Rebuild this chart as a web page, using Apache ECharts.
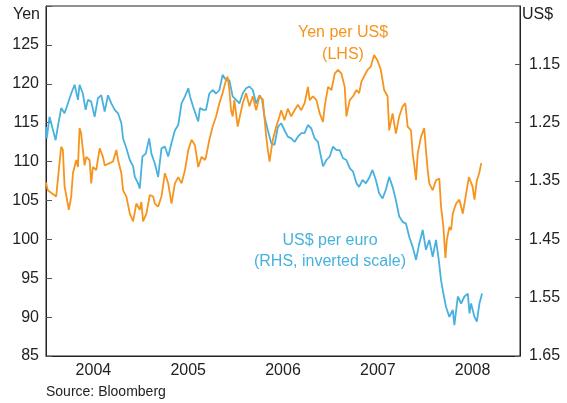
<!DOCTYPE html>
<html>
<head>
<meta charset="utf-8">
<script src="https://cdn.jsdelivr.net/npm/echarts@6.0.0/dist/echarts.min.js"></script>
<style>
html, body { margin: 0; padding: 0; background: #fff; }
#chart { width: 567px; height: 403px; }
</style>
</head>
<body>
<div id="chart"></div>
<script>
const YEARS = ["2004", "2005", "2006", "2007", "2008"]
const RHS_TICKS = [1.15, 1.25, 1.35, 1.45, 1.55, 1.65]

// yen per US$ (LHS): decimal year, yen
const YEN_T = [2004.000, 2004.019, 2004.107, 2004.160, 2004.178, 2004.196, 2004.241, 2004.266, 2004.284, 2004.319,
    2004.337, 2004.354, 2004.371, 2004.389, 2004.407, 2004.424, 2004.460, 2004.477, 2004.495, 2004.530,
    2004.566, 2004.601, 2004.619, 2004.672, 2004.707, 2004.742, 2004.760, 2004.795, 2004.813, 2004.848,
    2004.884, 2004.919, 2004.953, 2004.989, 2005.006, 2005.024, 2005.059, 2005.095, 2005.130, 2005.148,
    2005.183, 2005.218, 2005.254, 2005.289, 2005.324, 2005.360, 2005.395, 2005.430, 2005.466, 2005.501,
    2005.536, 2005.571, 2005.588, 2005.606, 2005.641, 2005.677, 2005.688, 2005.723, 2005.758, 2005.794,
    2005.829, 2005.863, 2005.899, 2005.916, 2005.934, 2005.952, 2005.969, 2005.987, 2006.022, 2006.040,
    2006.075, 2006.111, 2006.146, 2006.181, 2006.217, 2006.252, 2006.287, 2006.323, 2006.340, 2006.358,
    2006.376, 2006.393, 2006.429, 2006.463, 2006.481, 2006.516, 2006.551, 2006.587, 2006.622, 2006.657,
    2006.693, 2006.728, 2006.763, 2006.781, 2006.816, 2006.852, 2006.887, 2006.922, 2006.940, 2006.975,
    2007.011, 2007.046, 2007.080, 2007.116, 2007.151, 2007.169, 2007.204, 2007.239, 2007.275, 2007.303,
    2007.328, 2007.392, 2007.426, 2007.461, 2007.497, 2007.532, 2007.567, 2007.603, 2007.620, 2007.656,
    2007.691, 2007.726, 2007.762, 2007.790, 2007.815, 2007.850, 2007.868, 2007.885, 2007.903, 2007.921,
    2007.956, 2007.990, 2008.008, 2008.026, 2008.043, 2008.079, 2008.114, 2008.149, 2008.167, 2008.192,
    2008.213, 2008.228, 2008.255, 2008.273, 2008.291, 2008.326, 2008.361, 2008.397, 2008.432, 2008.461,
    2008.474, 2008.499, 2008.520, 2008.545, 2008.570, 2008.591]
const YEN = [107.3, 106.3, 105.5, 111.9, 111.5, 106.8, 103.8, 105.5, 108.5, 110.2,
    109.3, 114.3, 113.6, 111.5, 109.5, 110.6, 110.2, 107.2, 109.3, 108.9,
    111.7, 110.6, 109.5, 109.8, 110.0, 111.5, 110.2, 108.5, 106.3, 105.5,
    103.3, 102.3, 104.6, 103.8, 104.8, 102.3, 103.3, 105.7, 105.5, 104.6,
    104.2, 105.5, 108.5, 107.2, 104.6, 107.2, 108.0, 107.2, 108.9, 111.5,
    112.8, 112.1, 112.3, 109.3, 110.6, 110.2, 110.6, 112.8, 114.5, 115.8,
    117.5, 118.8, 120.5, 120.9, 119.2, 116.6, 115.8, 117.9, 114.5, 114.3,
    117.5, 118.8, 117.1, 118.4, 116.6, 118.4, 118.0, 113.2, 111.5, 110.0,
    111.5, 112.8, 114.5, 115.8, 116.6, 115.3, 116.8, 115.8, 116.6, 117.3,
    116.6, 117.5, 119.6, 117.9, 118.4, 117.9, 116.2, 115.1, 117.1, 119.6,
    119.2, 121.3, 121.8, 121.3, 119.6, 115.8, 117.9, 118.4, 119.2, 118.8,
    120.3, 121.8, 122.2, 123.7, 123.0, 121.8, 119.2, 118.4, 114.0, 116.2,
    113.6, 115.8, 117.1, 117.5, 114.5, 114.0, 111.0, 109.5, 107.6, 111.0,
    113.2, 114.3, 111.5, 108.9, 107.2, 106.3, 107.6, 107.8, 104.2, 101.6,
    97.6, 99.9, 101.6, 101.2, 103.3, 104.6, 105.1, 103.3, 105.9, 108.0,
    107.6, 106.8, 105.1, 107.6, 108.5, 109.8]

// US$ per euro (RHS, inverted): decimal year, US$
const EUR_T = [2004.000, 2004.008, 2004.037, 2004.065, 2004.101, 2004.125, 2004.160, 2004.196, 2004.231, 2004.266,
    2004.302, 2004.337, 2004.354, 2004.389, 2004.418, 2004.442, 2004.477, 2004.513, 2004.548, 2004.583,
    2004.619, 2004.654, 2004.689, 2004.725, 2004.760, 2004.795, 2004.813, 2004.848, 2004.884, 2004.919,
    2004.937, 2004.971, 2004.989, 2005.017, 2005.053, 2005.088, 2005.112, 2005.148, 2005.183, 2005.218,
    2005.254, 2005.289, 2005.324, 2005.360, 2005.395, 2005.430, 2005.466, 2005.501, 2005.519, 2005.553,
    2005.588, 2005.606, 2005.624, 2005.659, 2005.688, 2005.723, 2005.758, 2005.794, 2005.829, 2005.863,
    2005.899, 2005.934, 2005.969, 2006.005, 2006.040, 2006.075, 2006.111, 2006.146, 2006.181, 2006.217,
    2006.252, 2006.280, 2006.305, 2006.340, 2006.376, 2006.411, 2006.446, 2006.481, 2006.516, 2006.551,
    2006.587, 2006.622, 2006.657, 2006.693, 2006.728, 2006.763, 2006.799, 2006.834, 2006.869, 2006.894,
    2006.922, 2006.958, 2006.993, 2007.028, 2007.063, 2007.098, 2007.133, 2007.169, 2007.204, 2007.239,
    2007.275, 2007.303, 2007.339, 2007.374, 2007.408, 2007.444, 2007.479, 2007.514, 2007.550, 2007.585,
    2007.620, 2007.656, 2007.691, 2007.726, 2007.762, 2007.797, 2007.832, 2007.868, 2007.903, 2007.938,
    2007.974, 2008.008, 2008.043, 2008.079, 2008.114, 2008.143, 2008.167, 2008.192, 2008.220, 2008.255,
    2008.291, 2008.308, 2008.344, 2008.379, 2008.414, 2008.450, 2008.467, 2008.484, 2008.520, 2008.545,
    2008.572, 2008.600]
const EUR = [1.257, 1.277, 1.240, 1.257, 1.280, 1.257, 1.225, 1.234, 1.217, 1.200,
    1.185, 1.211, 1.185, 1.200, 1.228, 1.211, 1.214, 1.240, 1.208, 1.203,
    1.231, 1.203, 1.217, 1.228, 1.234, 1.251, 1.277, 1.294, 1.314, 1.325,
    1.343, 1.354, 1.363, 1.308, 1.303, 1.277, 1.303, 1.320, 1.343, 1.294,
    1.291, 1.308, 1.285, 1.263, 1.254, 1.217, 1.205, 1.191, 1.205, 1.223,
    1.240, 1.248, 1.225, 1.228, 1.228, 1.200, 1.194, 1.200, 1.194, 1.168,
    1.177, 1.177, 1.205, 1.211, 1.217, 1.200, 1.191, 1.188, 1.194, 1.217,
    1.203, 1.211, 1.240, 1.263, 1.285, 1.288, 1.257, 1.251, 1.263, 1.274,
    1.277, 1.283, 1.274, 1.268, 1.268, 1.254, 1.260, 1.277, 1.283, 1.303,
    1.325, 1.314, 1.308, 1.291, 1.297, 1.297, 1.311, 1.314, 1.328, 1.334,
    1.354, 1.360, 1.348, 1.354, 1.345, 1.331, 1.348, 1.371, 1.380, 1.365,
    1.343, 1.360, 1.383, 1.411, 1.420, 1.423, 1.446, 1.463, 1.485, 1.457,
    1.434, 1.468, 1.451, 1.480, 1.451, 1.485, 1.520, 1.543, 1.566, 1.583,
    1.571, 1.597, 1.548, 1.560, 1.548, 1.543, 1.577, 1.560, 1.583, 1.591,
    1.560, 1.543]

const FONT = "Liberation Sans"
const ORANGE = "#f7941e"
const BLUE = "#48b1de"
const AXIS = "#222"

const chart = echarts.init(document.getElementById("chart"))
const txt = (x, y, text, color, align, size) => ({
    type: "text", x, y,
    style: { text, fill: color, font: `${size || 16}px "${FONT}"`, align: align || "center", verticalAlign: "middle" }
})

chart.setOption({
    animation: false,
    textStyle: { fontFamily: FONT },
    grid: { left: 46, right: 47, top: 6, bottom: 47, show: true, borderColor: AXIS, borderWidth: 1 },
    xAxis: [{
        type: "category", data: YEARS, boundaryGap: true, position: "bottom",
        axisLine: { lineStyle: { color: AXIS, width: 1 } },
        axisTick: { inside: true, length: 7, lineStyle: { color: "#555" } },
        axisLabel: { color: "#222", fontSize: 16, margin: 7, fontFamily: FONT },
        splitLine: { show: false }
    }, {
        type: "value", min: 2004, max: 2009, show: false
    }],
    yAxis: [{
        type: "value", min: 85, max: 130, interval: 5, position: "left",
        axisLine: { show: true, lineStyle: { color: AXIS, width: 1 } },
        axisTick: { show: true, inside: true, length: 6, lineStyle: { color: "#555" } },
        axisLabel: { color: "#222", fontSize: 16, margin: 7, fontFamily: FONT, formatter: v => v >= 130 ? "" : v },
        splitLine: { show: false }
    }, {
        type: "value", min: 1.05, max: 1.65, inverse: true, position: "right",
        axisLine: { show: true, lineStyle: { color: AXIS, width: 1 } },
        axisTick: { show: true, inside: true, length: 5, lineStyle: { color: "#555" }, customValues: RHS_TICKS },
        axisLabel: { color: "#222", fontSize: 16, margin: 9, fontFamily: FONT, customValues: RHS_TICKS, formatter: v => v.toFixed(2) },
        splitLine: { show: false }
    }],
    series: [{
        name: "US$ per euro", type: "line", xAxisIndex: 1, yAxisIndex: 1, symbol: "none",
        lineStyle: { color: BLUE, width: 1.8 }, data: EUR_T.map((t, i) => [t, EUR[i]])
    }, {
        name: "Yen per US$", type: "line", xAxisIndex: 1, yAxisIndex: 0, symbol: "none",
        lineStyle: { color: ORANGE, width: 1.8 }, data: YEN_T.map((t, i) => [t, YEN[i]])
    }],
    graphic: [
        txt(40, 15, "Yen", "#222", "right"),
        txt(522, 15, "US$", "#222", "left"),
        txt(343, 33, "Yen per US$", ORANGE),
        txt(343, 55, "(LHS)", ORANGE),
        txt(330, 241, "US$ per euro", BLUE),
        txt(330, 262, "(RHS, inverted scale)", BLUE),
        txt(46, 392, "Source: Bloomberg", "#222", "left", 14)
    ]
})
</script>
</body>
</html>
